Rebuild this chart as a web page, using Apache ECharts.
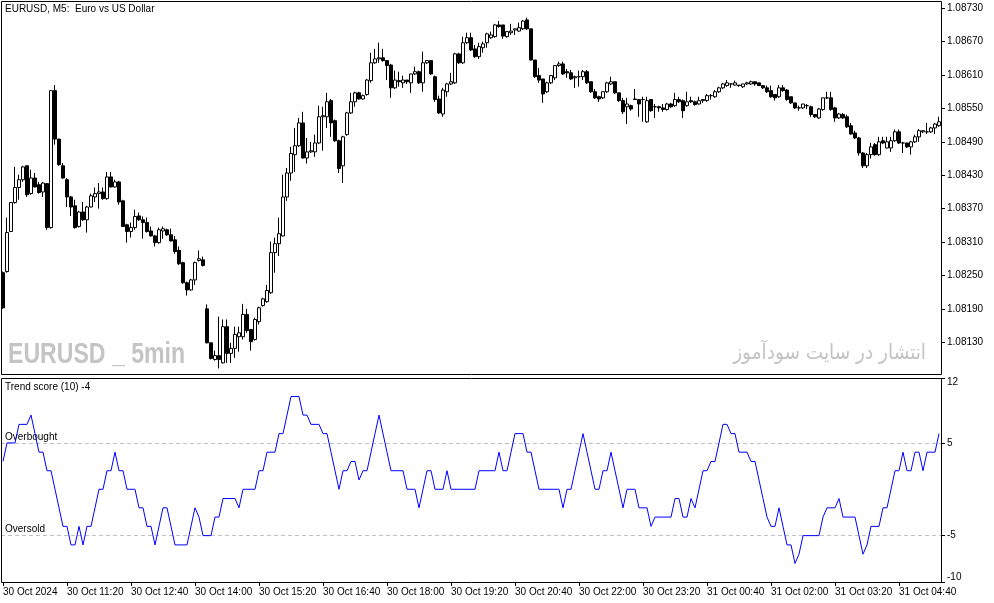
<!DOCTYPE html>
<html>
<head>
<meta charset="utf-8">
<script src="https://cdn.jsdelivr.net/npm/echarts/dist/echarts.min.js"></script>
<style>
html,body{margin:0;padding:0;background:#fff;}
#c{width:994px;height:603px;}
</style>
</head>
<body>
<div id="c"></div>
<script>
// ---- data ----
const startTime = '2024-10-30 10:00';
const barMinutes = 5;
const tickLabels = ['30 Oct 2024','30 Oct 11:20','30 Oct 12:40','30 Oct 14:00','30 Oct 15:20','30 Oct 16:40','30 Oct 18:00','30 Oct 19:20','30 Oct 20:40','30 Oct 22:00','30 Oct 23:20','31 Oct 00:40','31 Oct 02:00','31 Oct 03:20','31 Oct 04:40'];
const priceTicks = [1.08130,1.08190,1.08250,1.08310,1.08370,1.08430,1.08490,1.08550,1.08610,1.08670,1.08730];
const scoreTicks = [12,5,-5,-10];
const levels = [{name:'Overbought', value:5},{name:'Oversold', value:-5}];

const openP = [1.08255,1.08257,1.08329,1.08381,1.08408,1.08422,1.08447,1.08397,1.08425,1.08413,
1.08400,1.08415,1.08336,1.08582,1.08495,1.08447,1.08422,1.08391,1.08375,1.08338,
1.08364,1.08350,1.08373,1.08391,1.08397,1.08400,1.08388,1.08427,1.08409,1.08418,
1.08384,1.08341,1.08329,1.08336,1.08357,1.08350,1.08345,1.08330,1.08321,1.08309,
1.08330,1.08332,1.08323,1.08314,1.08295,1.08273,1.08237,1.08224,1.08242,1.08277,
1.08278,1.08190,1.08129,1.08099,1.08106,1.08093,1.08158,1.08110,1.08119,1.08140,
1.08140,1.08180,1.08153,1.08135,1.08167,1.08196,1.08203,1.08219,1.08291,1.08307,
1.08321,1.08391,1.08434,1.08467,1.08483,1.08524,1.08461,1.08472,1.08472,1.08488,
1.08535,1.08535,1.08564,1.08528,1.08492,1.08447,1.08503,1.08542,1.08562,1.08578,
1.08567,1.08575,1.08600,1.08632,1.08639,1.08641,1.08636,1.08628,1.08587,1.08600,
1.08596,1.08601,1.08596,1.08612,1.08616,1.08596,1.08632,1.08636,1.08607,1.08567,
1.08540,1.08580,1.08594,1.08596,1.08648,1.08632,1.08668,1.08677,1.08657,1.08643,
1.08659,1.08668,1.08677,1.08679,1.08700,1.08700,1.08679,1.08686,1.08691,1.08689,
1.08693,1.08709,1.08693,1.08637,1.08609,1.08603,1.08580,1.08596,1.08605,1.08627,
1.08630,1.08616,1.08614,1.08605,1.08607,1.08607,1.08616,1.08598,1.08580,1.08571,
1.08569,1.08580,1.08594,1.08598,1.08578,1.08564,1.08553,1.08555,1.08567,1.08566,
1.08566,1.08526,1.08566,1.08553,1.08553,1.08551,1.08548,1.08558,1.08555,1.08566,
1.08564,1.08555,1.08564,1.08562,1.08558,1.08564,1.08564,1.08573,1.08571,1.08580,
1.08587,1.08591,1.08594,1.08592,1.08592,1.08589,1.08594,1.08594,1.08598,1.08596,
1.08591,1.08587,1.08582,1.08575,1.08571,1.08587,1.08583,1.08571,1.08560,1.08551,
1.08551,1.08555,1.08553,1.08539,1.08533,1.08548,1.08569,1.08569,1.08551,1.08533,
1.08539,1.08535,1.08519,1.08506,1.08497,1.08470,1.08447,1.08467,1.08485,1.08467,
1.08492,1.08479,1.08479,1.08492,1.08508,1.08488,1.08488,1.08481,1.08490,1.08499,
1.08508,1.08508,1.08508,1.08515,1.08519];

const closeP = [1.08192,1.08327,1.08381,1.08408,1.08422,1.08445,1.08395,1.08425,1.08409,1.08399,
1.08416,1.08336,1.08582,1.08495,1.08449,1.08425,1.08391,1.08373,1.08336,1.08364,
1.08350,1.08373,1.08393,1.08397,1.08400,1.08388,1.08427,1.08409,1.08418,1.08382,
1.08338,1.08329,1.08336,1.08356,1.08350,1.08345,1.08329,1.08321,1.08309,1.08332,
1.08334,1.08323,1.08312,1.08293,1.08271,1.08237,1.08224,1.08242,1.08273,1.08280,
1.08268,1.08129,1.08101,1.08106,1.08099,1.08158,1.08110,1.08119,1.08144,1.08147,
1.08180,1.08151,1.08131,1.08171,1.08192,1.08208,1.08223,1.08291,1.08307,1.08325,
1.08391,1.08434,1.08469,1.08483,1.08524,1.08461,1.08472,1.08474,1.08488,1.08535,
1.08537,1.08562,1.08524,1.08492,1.08442,1.08499,1.08542,1.08562,1.08578,1.08567,
1.08573,1.08601,1.08632,1.08639,1.08641,1.08636,1.08627,1.08587,1.08601,1.08598,
1.08601,1.08598,1.08612,1.08616,1.08596,1.08632,1.08636,1.08612,1.08566,1.08542,
1.08583,1.08594,1.08598,1.08648,1.08632,1.08668,1.08677,1.08655,1.08643,1.08661,
1.08666,1.08684,1.08682,1.08700,1.08697,1.08680,1.08688,1.08689,1.08693,1.08695,
1.08707,1.08693,1.08637,1.08607,1.08601,1.08576,1.08596,1.08609,1.08627,1.08630,
1.08612,1.08614,1.08603,1.08607,1.08607,1.08616,1.08596,1.08580,1.08569,1.08567,
1.08580,1.08596,1.08598,1.08578,1.08564,1.08544,1.08558,1.08549,1.08566,1.08558,
1.08566,1.08564,1.08546,1.08553,1.08551,1.08548,1.08558,1.08553,1.08566,1.08562,
1.08546,1.08562,1.08562,1.08557,1.08564,1.08566,1.08573,1.08573,1.08580,1.08587,
1.08594,1.08596,1.08594,1.08596,1.08591,1.08594,1.08596,1.08598,1.08594,1.08591,
1.08587,1.08580,1.08571,1.08569,1.08587,1.08582,1.08566,1.08560,1.08551,1.08551,
1.08558,1.08555,1.08539,1.08535,1.08549,1.08569,1.08569,1.08548,1.08533,1.08540,
1.08533,1.08517,1.08504,1.08497,1.08470,1.08447,1.08467,1.08481,1.08467,1.08490,
1.08488,1.08490,1.08492,1.08508,1.08488,1.08488,1.08481,1.08490,1.08499,1.08510,
1.08510,1.08508,1.08515,1.08522,1.08526];

const lowP = [1.08190,1.08255,1.08329,1.08379,1.08386,1.08418,1.08391,1.08395,1.08408,1.08397,
1.08391,1.08332,1.08334,1.08485,1.08447,1.08424,1.08373,1.08357,1.08334,1.08336,
1.08348,1.08327,1.08372,1.08382,1.08370,1.08386,1.08386,1.08408,1.08408,1.08377,
1.08338,1.08309,1.08318,1.08332,1.08348,1.08316,1.08327,1.08320,1.08302,1.08307,
1.08316,1.08321,1.08311,1.08289,1.08269,1.08235,1.08214,1.08223,1.08233,1.08275,
1.08266,1.08128,1.08099,1.08097,1.08083,1.08092,1.08093,1.08093,1.08102,1.08113,
1.08135,1.08147,1.08115,1.08133,1.08162,1.08194,1.08201,1.08217,1.08255,1.08285,
1.08320,1.08384,1.08420,1.08436,1.08481,1.08460,1.08451,1.08470,1.08463,1.08486,
1.08474,1.08515,1.08499,1.08490,1.08434,1.08416,1.08501,1.08540,1.08553,1.08566,
1.08566,1.08573,1.08596,1.08630,1.08632,1.08634,1.08601,1.08569,1.08585,1.08589,
1.08587,1.08594,1.08578,1.08610,1.08594,1.08580,1.08630,1.08610,1.08562,1.08540,
1.08535,1.08571,1.08592,1.08594,1.08630,1.08630,1.08666,1.08653,1.08641,1.08639,
1.08650,1.08659,1.08675,1.08677,1.08695,1.08675,1.08677,1.08682,1.08682,1.08688,
1.08691,1.08691,1.08636,1.08605,1.08596,1.08560,1.08578,1.08594,1.08601,1.08625,
1.08610,1.08605,1.08601,1.08587,1.08589,1.08601,1.08594,1.08578,1.08567,1.08562,
1.08567,1.08578,1.08592,1.08576,1.08562,1.08540,1.08522,1.08546,1.08566,1.08535,
1.08526,1.08524,1.08544,1.08533,1.08544,1.08544,1.08546,1.08551,1.08553,1.08560,
1.08533,1.08553,1.08560,1.08555,1.08557,1.08560,1.08562,1.08566,1.08569,1.08578,
1.08585,1.08589,1.08587,1.08591,1.08589,1.08587,1.08592,1.08592,1.08591,1.08591,
1.08585,1.08578,1.08569,1.08564,1.08569,1.08580,1.08564,1.08558,1.08549,1.08546,
1.08549,1.08549,1.08535,1.08533,1.08531,1.08546,1.08567,1.08546,1.08526,1.08531,
1.08531,1.08515,1.08503,1.08495,1.08465,1.08443,1.08443,1.08460,1.08465,1.08465,
1.08486,1.08478,1.08472,1.08490,1.08486,1.08470,1.08479,1.08467,1.08488,1.08490,
1.08506,1.08504,1.08506,1.08504,1.08517];

const highP = [1.08257,1.08354,1.08382,1.08445,1.08431,1.08447,1.08447,1.08440,1.08434,1.08418,
1.08418,1.08416,1.08582,1.08592,1.08495,1.08452,1.08425,1.08393,1.08386,1.08366,
1.08382,1.08375,1.08397,1.08408,1.08416,1.08408,1.08436,1.08436,1.08422,1.08420,
1.08386,1.08343,1.08345,1.08368,1.08363,1.08356,1.08354,1.08338,1.08323,1.08336,
1.08338,1.08334,1.08334,1.08321,1.08302,1.08275,1.08239,1.08244,1.08275,1.08295,
1.08284,1.08198,1.08129,1.08115,1.08176,1.08171,1.08171,1.08129,1.08158,1.08158,
1.08199,1.08190,1.08153,1.08174,1.08194,1.08210,1.08233,1.08311,1.08318,1.08354,
1.08431,1.08443,1.08481,1.08515,1.08533,1.08544,1.08497,1.08490,1.08503,1.08555,
1.08553,1.08578,1.08567,1.08530,1.08494,1.08501,1.08544,1.08578,1.08580,1.08580,
1.08575,1.08603,1.08650,1.08657,1.08668,1.08657,1.08637,1.08630,1.08618,1.08616,
1.08609,1.08601,1.08612,1.08625,1.08618,1.08652,1.08637,1.08637,1.08609,1.08573,
1.08587,1.08596,1.08614,1.08650,1.08650,1.08679,1.08686,1.08686,1.08664,1.08668,
1.08670,1.08686,1.08688,1.08702,1.08707,1.08700,1.08689,1.08702,1.08693,1.08704,
1.08709,1.08713,1.08693,1.08637,1.08623,1.08603,1.08598,1.08610,1.08628,1.08634,
1.08634,1.08621,1.08619,1.08609,1.08618,1.08619,1.08619,1.08598,1.08585,1.08573,
1.08580,1.08598,1.08607,1.08598,1.08578,1.08569,1.08569,1.08557,1.08585,1.08567,
1.08571,1.08571,1.08567,1.08558,1.08555,1.08558,1.08560,1.08560,1.08578,1.08571,
1.08566,1.08580,1.08571,1.08564,1.08571,1.08567,1.08576,1.08576,1.08583,1.08589,
1.08596,1.08601,1.08594,1.08600,1.08592,1.08594,1.08598,1.08600,1.08598,1.08596,
1.08592,1.08591,1.08591,1.08575,1.08592,1.08592,1.08585,1.08571,1.08560,1.08555,
1.08558,1.08558,1.08555,1.08539,1.08551,1.08569,1.08580,1.08580,1.08553,1.08542,
1.08542,1.08539,1.08524,1.08510,1.08499,1.08472,1.08470,1.08488,1.08488,1.08499,
1.08499,1.08499,1.08499,1.08512,1.08512,1.08490,1.08488,1.08492,1.08503,1.08513,
1.08510,1.08524,1.08517,1.08524,1.08535];

const trendScore = [3,5,5,5,7,7,7,8,6,4, 4,2,2,0,-2,-4,-4,-6,-6,-4,
-6,-4,-4,-2,0,0,2,2,4,2, 2,0,0,0,-2,-2,-4,-4,-6,-4,
-2,-2,-4,-6,-6,-6,-6,-4,-2,-3, -5,-5,-5,-3,-3,-1,-1,-1,-1,-2,
0,0,0,0,2,2,4,4,4,6, 6,8,10,10,10,8,8,7,7,7,
6,6,4,2,0,2,2,3,3,1, 2,2,4,6,8,6,4,2,2,2,
2,0,0,0,-2,0,2,2,0,0, 0,2,0,0,0,0,0,0,0,2,
2,2,2,2,4,2,2,4,6,6, 6,4,4,2,0,0,0,0,0,0,
-2,0,0,2,4,6,4,2,0,0, 2,2,4,2,0,-2,0,0,0,-2,
-2,-2,-4,-3,-3,-3,-3,-3,-1,-1, -3,-3,-1,-2,0,2,2,3,3,5,
7,7,6,6,4,4,4,3,3,1, -1,-3,-4,-4,-2,-4,-6,-6,-8,-7,
-5,-5,-5,-5,-5,-3,-2,-2,-2,-1, -3,-3,-3,-3,-5,-7,-6,-4,-4,-4,
-2,-2,0,2,2,4,2,2,4,4, 2,4,4,4,6];

// ---- build ----
const times = [];
(function(){
  const t0 = new Date(startTime.replace(' ', 'T') + ':00');
  for (let i = 0; i < openP.length; i++) {
    const d = new Date(t0.getTime() + i * barMinutes * 60000);
    times.push(d.getDate() + ' Oct ' + String(d.getHours()).padStart(2,'0') + ':' + String(d.getMinutes()).padStart(2,'0'));
  }
})();
const candles = openP.map((o, i) => [o, closeP[i], lowP[i], highP[i]]);

const FONT = 'Liberation Sans';
const chart = echarts.init(document.getElementById('c'), null, {renderer: 'canvas'});
chart.setOption({
  animation: false,
  backgroundColor: '#ffffff',
  textStyle: {fontFamily: FONT},
  title: [
    {text: 'EURUSD, M5:  Euro vs US Dollar', left: 5, top: 4, padding: 0,
     textStyle: {fontSize: 10, fontWeight: 'normal', color: '#000', fontFamily: FONT}},
    {text: 'Trend score (10) -4', left: 5, top: 382, padding: 0,
     textStyle: {fontSize: 10, fontWeight: 'normal', color: '#000', fontFamily: FONT}}
  ],
  grid: [
    {left: 1, right: 53, top: 1, height: 373},
    {left: 1, right: 53, top: 378, height: 204}
  ],
  xAxis: [
    {type: 'category', gridIndex: 0, data: times, boundaryGap: true, show: false},
    {type: 'category', gridIndex: 1, data: times, boundaryGap: true, position: 'bottom',
     axisLine: {show: false, onZero: false},
     axisTick: {show: true, interval: 15, alignWithLabel: true, length: 4, lineStyle: {color: '#000'}},
     axisLabel: {interval: 15, align: 'left', fontSize: 10, color: '#000', margin: 5, fontFamily: FONT,
       formatter: (v, i) => (i % 16 === 0 ? tickLabels[i / 16] : '')},
     splitLine: {show: false}}
  ],
  yAxis: [
    {type: 'value', gridIndex: 0, position: 'right', min: 1.08073, max: 1.08743,
     splitLine: {show: false}, axisLine: {show: false},
     axisTick: {show: true, length: 4, customValues: priceTicks, lineStyle: {color: '#000'}},
     axisLabel: {customValues: priceTicks, formatter: v => v.toFixed(5), fontSize: 10, color: '#000', margin: 6, fontFamily: FONT}},
    {type: 'value', gridIndex: 1, position: 'right', min: -10, max: 12,
     splitLine: {show: false}, axisLine: {show: false},
     axisTick: {show: true, length: 4, customValues: scoreTicks, lineStyle: {color: '#000'}},
     axisLabel: {customValues: scoreTicks, fontSize: 10, color: '#000', margin: 6, fontFamily: FONT,
       formatter: v => v === 12 ? '{t|12}' : (v === -10 ? '{b|-10}' : String(v)),
       rich: {
         t: {padding: [9, 0, 0, 0], fontSize: 10, color: '#000', fontFamily: FONT},
         b: {padding: [0, 0, 10, 0], fontSize: 10, color: '#000', fontFamily: FONT}
       }}}
  ],
  graphic: [
    {type: 'rect', silent: true, z: 100, shape: {x: 1.5, y: 1.5, width: 940, height: 373},
     style: {fill: 'none', stroke: '#000', lineWidth: 1}},
    {type: 'rect', silent: true, z: 100, shape: {x: 1.5, y: 378.5, width: 940, height: 204},
     style: {fill: 'none', stroke: '#000', lineWidth: 1}},
    {type: 'text', silent: true, z: 1, x: 8, y: 355, scaleX: 0.77,
     style: {text: 'EURUSD _ 5min', font: 'bold 30px "Liberation Sans"', fill: '#c4c4c4', align: 'left', verticalAlign: 'middle'}},
    {type: 'text', silent: true, z: 1, x: 926, y: 354, scaleX: 0.88,
     style: {text: 'انتشار در سایت سودآموز', font: '21px "DejaVu Sans"', fill: '#c4c4c4', align: 'right', verticalAlign: 'middle'}}
  ],
  series: [
    {type: 'candlestick', xAxisIndex: 0, yAxisIndex: 0, data: candles, barWidth: 3,
     itemStyle: {color: '#ffffff', color0: '#000000', borderColor: '#000000', borderColor0: '#000000', borderColorDoji: '#000000', borderWidth: 1}},
    {type: 'line', xAxisIndex: 1, yAxisIndex: 1, data: trendScore, symbol: 'none', z: 3,
     lineStyle: {color: '#0000ff', width: 1},
     markLine: {
       silent: true, symbol: ['none', 'none'], z: 2,
       lineStyle: {color: '#c0c0c0', type: [4, 3], width: 1},
       label: {show: true, position: 'insideStartTop', formatter: p => p.name, color: '#000', fontSize: 10, fontFamily: FONT, distance: [4, 1]},
       data: levels.map(l => ({name: l.name, yAxis: l.value}))
     }}
  ]
});
</script>
</body>
</html>
